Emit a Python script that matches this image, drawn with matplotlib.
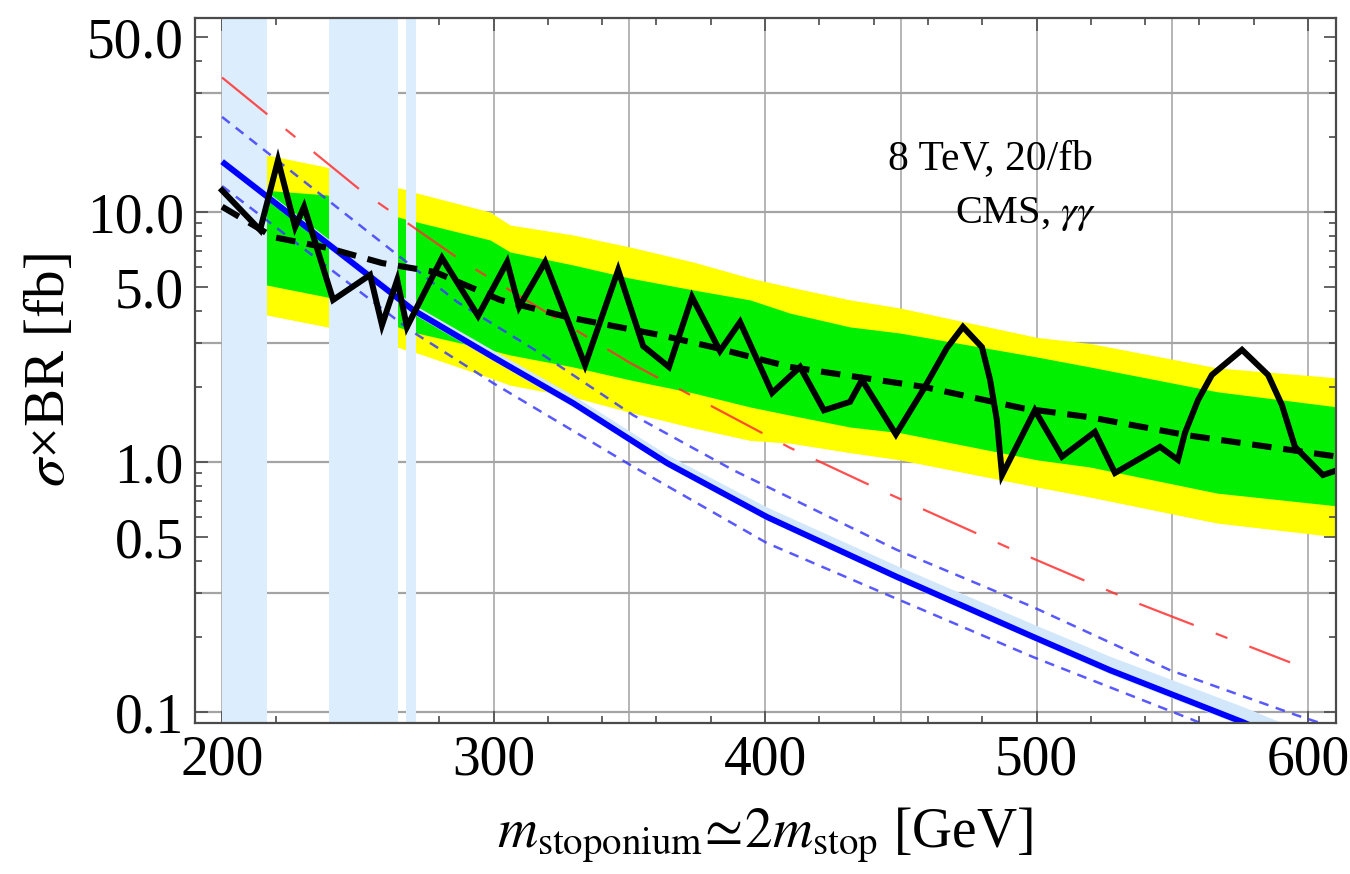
import matplotlib
matplotlib.use("Agg")
import matplotlib.pyplot as plt

plt.rcParams['font.family'] = ['Liberation Serif', 'DejaVu Serif']
plt.rcParams['mathtext.fontset'] = 'stix'
plt.rcParams['lines.scale_dashes'] = False

# ---- expected-limit bands (GeV, fb) ----
band_mass = [200, 216.6, 238.7, 264.8, 267.8, 271.8, 298.7, 306.1, 329.3, 350.3,
             373.5, 394.5, 409.2, 431.3, 449.7, 500.2, 519.7, 566.5, 611.0]
yellow_hi = [19.0, 16.9, 15.1, 12.5, 12.3, 11.9, 10.0, 8.87, 8.09, 7.24,
             6.31, 5.44, 5.01, 4.45, 4.13, 3.15, 2.98, 2.38, 2.17]
green_hi = [14.0, 12.2, 11.7, 9.55, 9.35, 9.12, 7.73, 6.92, 6.14, 5.44,
            4.88, 4.45, 3.94, 3.47, 3.28, 2.63, 2.40, 1.91, 1.66]
green_lo = [5.7, 5.1, 4.57, 3.47, 3.38, 3.28, 2.81, 2.68, 2.40, 2.13,
            1.89, 1.66, 1.54, 1.38, 1.31, 1.02, 0.955, 0.751, 0.667]
yellow_lo = [4.3, 3.87, 3.47, 2.88, 2.80, 2.73, 2.17, 2.03, 1.82, 1.58,
             1.37, 1.22, 1.19, 1.09, 1.02, 0.794, 0.724, 0.570, 0.501]

# ---- expected limit (dashed) ----
exp_mass = [200, 213.3, 218.8, 239.0, 258.9, 278.5, 302.4, 327.1, 361.3, 380.8,
            409.2, 458.2, 495.0, 519.7, 555.4, 611.0]
exp_limit = [10.5, 8.63, 7.94, 7.18, 6.25, 5.75, 4.45, 3.80, 3.22, 2.88,
             2.40, 2.00, 1.64, 1.51, 1.28, 1.05]

# ---- observed limit ----
obs_mass = [200, 214.0, 220.6, 226.9, 230.2, 240.9, 254.5, 258.9, 264.5, 268.1,
            281.0, 294.3, 305.0, 309.4, 319.0, 333.7, 345.9, 355.1, 364.6, 373.1,
            383.4, 390.8, 402.6, 412.9, 421.7, 431.3, 435.7, 448.2, 458.2, 467.0,
            472.9, 479.9, 482.9, 485.4, 487.3, 499.4, 509.4, 521.5, 528.9, 545.5,
            552.1, 554.7, 559.5, 564.6, 575.7, 585.3, 590.4, 595.2, 605.5, 611.0]
obs_limit = [12.2, 8.47, 16.1, 8.71, 10.5, 4.45, 5.60, 3.53, 5.35, 3.47,
             6.55, 3.84, 6.31, 4.17, 6.31, 2.44, 5.86, 2.91, 2.40, 4.57,
             2.78, 3.63, 1.89, 2.40, 1.61, 1.74, 2.13, 1.29, 1.94, 2.86,
             3.47, 2.88, 2.13, 1.47, 0.887, 1.61, 1.05, 1.32, 0.904, 1.15,
             1.02, 1.31, 1.77, 2.23, 2.81, 2.23, 1.69, 1.15, 0.887, 0.929]

# ---- stoponium prediction and its variations ----
theory_mass = [200, 270.3, 299.8, 329.3, 363.9, 400.7, 448.6, 498.7, 527.1, 576.1, 590]
theory = [15.9, 4.06, 2.63, 1.72, 0.99, 0.603, 0.347, 0.200, 0.147, 0.091, 0.078]
theory_band_hi = [16.6, 4.28, 2.80, 1.85, 1.07, 0.660, 0.385, 0.225, 0.167, 0.105, 0.091]
theory_band_lo = [15.4, 3.92, 2.55, 1.66, 0.96, 0.585, 0.337, 0.194, 0.142, 0.088, 0.075]

upper_mass = [200, 286.6, 318.2, 351.4, 388.2, 448.6, 498.7, 549.2, 595.9, 605]
upper_var = [24.0, 4.37, 2.68, 1.54, 0.929, 0.445, 0.263, 0.147, 0.097, 0.090]
lower_mass = [200, 269.2, 299.8, 349.2, 400.7, 447.1, 498.7, 557.6, 565]
lower_var = [12.7, 3.37, 2.07, 0.99, 0.474, 0.288, 0.166, 0.093, 0.086]

alt_mass = [200, 251.9, 289.5, 350.3, 409.2, 442.4, 493.9, 537.0, 593.4]
alt_pred = [34.5, 12.0, 6.25, 2.49, 1.14, 0.773, 0.433, 0.273, 0.158]

# mass windows excluded from the search
excluded = [(200.0, 216.6), (239.2, 264.7), (267.8, 271.6)]

x_grid = [200, 250, 300, 350, 400, 450, 500, 550, 600]
y_grid = [0.1, 0.3, 1, 3, 10, 30]
y_ticks = [0.1, 0.5, 1, 5, 10, 50]
y_ticklabels = ['0.1', '0.5', '1.0', '5.0', '10.0', '50.0']
x_ticks = [200, 300, 400, 500, 600]

fig = plt.figure(figsize=(13.5, 8.74), dpi=100)
ax = fig.add_axes([0.1444, 0.1728, 0.8452, 0.8066])
ax.set_yscale('log')
ax.set_xlim(190.0, 610.3)
ax.set_ylim(0.0904, 59.7)

for gx in x_grid:
    ax.axvline(gx, color='#b0b0b0', lw=1.3, zorder=0)
for gy in y_grid:
    ax.axhline(gy, color='#a4a4a4', lw=1.6, zorder=0)

ax.fill_between(band_mass, yellow_lo, yellow_hi, color='#ffff00', lw=0, zorder=1)
ax.fill_between(band_mass, green_lo, green_hi, color='#00f000', lw=0, zorder=2)

for a, b in excluded:
    ax.axvspan(a, b, color='#dcedfd', lw=0, zorder=3)

ax.fill_between(theory_mass, theory_band_lo, theory_band_hi, color='#d3e7fb', lw=0, zorder=4)

ax.plot(upper_mass, upper_var, color='#3c3cff', lw=1.8, dashes=(7, 5.5), alpha=0.85, zorder=5)
ax.plot(lower_mass, lower_var, color='#3c3cff', lw=1.8, dashes=(7, 5.5), alpha=0.85, zorder=5)
ax.plot(alt_mass, alt_pred, color='#ff3030', lw=1.6, dashes=(42, 17, 9, 17), alpha=0.85, zorder=5)
ax.plot(theory_mass, theory, color='#0000ff', lw=4.3, zorder=6, solid_capstyle='butt')

ax.plot(exp_mass, exp_limit, color='black', lw=4.4, dashes=(14, 8.5), zorder=7,
        dash_capstyle='butt')
ax.plot(obs_mass, obs_limit, color='black', lw=4.3, zorder=8, solid_joinstyle='miter')

# axes frame and ticks
for s in ax.spines.values():
    s.set_color('#4a4a4a')
    s.set_linewidth(1.6)
    s.set_zorder(10)

ax.set_xticks(x_ticks)
ax.set_xticks(list(range(200, 620, 20)), minor=True)
ax.set_yticks(y_ticks)
ax.set_yticklabels(y_ticklabels)
minor_y = [0.2, 0.3, 0.4, 0.6, 0.7, 0.8, 0.9, 2, 3, 4, 6, 7, 8, 9, 20, 30, 40]
ax.set_yticks(minor_y, minor=True)
ax.yaxis.set_minor_formatter(matplotlib.ticker.NullFormatter())
ax.tick_params(which='both', direction='in', top=True, right=True, color='#4a4a4a', width=1.2)
ax.tick_params(which='major', length=9, labelsize=40, pad=8)
ax.tick_params(which='minor', length=5)

ax.set_xlabel(r'$m_{\mathrm{stoponium}}\!{\simeq}\!2m_{\mathrm{stop}}$ [GeV]',
              fontsize=40, labelpad=14)
ax.set_ylabel(r'$\sigma$×BR [fb]', fontsize=41, labelpad=8)

ax.text(0.787, 0.80, '8 TeV, 20/fb', transform=ax.transAxes, ha='right', va='center',
        fontsize=30, zorder=11)
ax.text(0.79, 0.722, r'CMS, $\gamma\gamma$', transform=ax.transAxes, ha='right', va='center',
        fontsize=29, zorder=11)

fig.savefig('out.png', dpi=100)
